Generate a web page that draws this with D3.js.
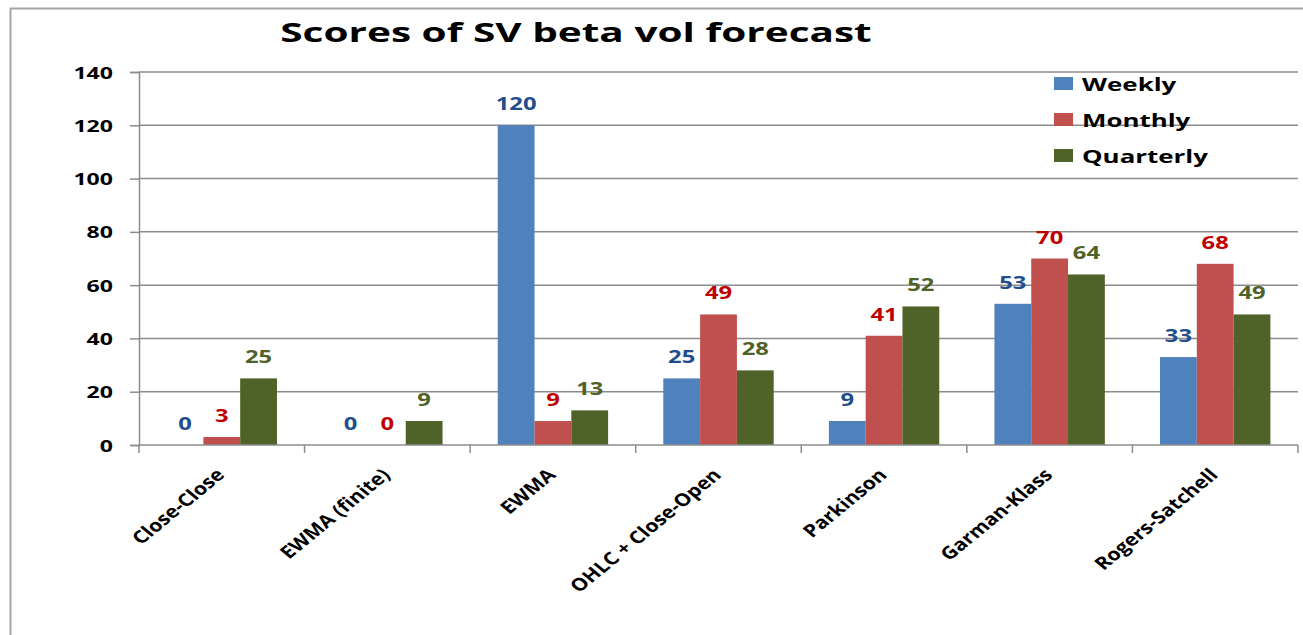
<!DOCTYPE html>
<html>
<head>
<meta charset="utf-8">
<script src="https://cdn.jsdelivr.net/npm/d3@7"></script>
<style>
  html, body { margin: 0; padding: 0; background: #fff; }
  svg { display: block; }
  text { font-family: "Open Sans", "DejaVu Sans", sans-serif; font-weight: 700; }
</style>
</head>
<body>
<svg id="chart" width="1303" height="635"></svg>
<script>
const title = "Scores of SV beta vol forecast";
const categories = ["Close-Close", "EWMA (finite)", "EWMA", "OHLC + Close-Open", "Parkinson", "Garman-Klass", "Rogers-Satchell"];
const seriesNames = ["Weekly", "Monthly", "Quarterly"];
const weekly    = [0, 0, 120, 25, 9, 53, 33];
const monthly   = [3, 0, 9, 49, 41, 70, 68];
const quarterly = [25, 9, 13, 28, 52, 64, 49];
const yTicks = [0, 20, 40, 60, 80, 100, 120, 140];

const seriesValues = [weekly, monthly, quarterly];
const barColors = ["#4F81BD", "#C0504D", "#4F6228"];
const labelColors = ["#1F4E8C", "#C00000", "#4F6228"];

const svg = d3.select("#chart");
const SX = 1.4; // horizontal stretch of the text glyphs

const plotLeft = 139, plotRight = 1298, plotTop = 72, plotBottom = 445;

// outer frame
svg.append("rect")
  .attr("x", 10.5).attr("y", 8.5).attr("width", 1400).attr("height", 800)
  .attr("fill", "none").attr("stroke", "#a6a6a6").attr("stroke-width", 2);

const x0 = d3.scaleBand().domain(categories).range([plotLeft, plotRight])
  .paddingInner(1/3).paddingOuter(1/6);
const x1 = d3.scaleBand().domain(seriesNames).range([0, x0.bandwidth()]);
const y = d3.scaleLinear().domain([0, 140]).range([plotBottom, plotTop]);

// gridlines
svg.append("g").selectAll("line").data(yTicks.filter(d => d > 0)).join("line")
  .attr("x1", plotLeft).attr("x2", plotRight)
  .attr("y1", d => y(d)).attr("y2", d => y(d))
  .attr("stroke", "#8c8c8c").attr("stroke-width", 1.5);

// y axis
const yAxis = svg.append("g").attr("transform", `translate(${plotLeft},0)`)
  .call(d3.axisLeft(y).tickValues(yTicks).tickSize(9).tickPadding(0).tickFormat(d3.format("d")));
yAxis.select(".domain").attr("stroke", "#8c8c8c").attr("stroke-width", 1.5);
yAxis.selectAll(".tick line").attr("stroke", "#8c8c8c").attr("stroke-width", 1.5);
yAxis.selectAll(".tick text")
  .attr("x", null).attr("dy", null)
  .attr("font-size", 16.5).attr("fill", "#000").attr("text-anchor", "end")
  .attr("transform", `translate(-26,6) scale(${SX},1)`);

// bars
const groups = svg.append("g").selectAll("g").data(categories).join("g")
  .attr("transform", d => `translate(${x0(d)},0)`);
const barData = (c, i) => seriesNames.map((s, k) => ({ s, k, v: seriesValues[k][i] }));
groups.selectAll("rect").data(barData).join("rect")
  .attr("x", d => x1(d.s)).attr("width", x1.bandwidth())
  .attr("y", d => y(d.v)).attr("height", d => y(0) - y(d.v))
  .attr("fill", d => barColors[d.k]);

// data labels
groups.selectAll("text.lbl").data(barData).join("text")
  .attr("class", "lbl")
  .attr("text-anchor", "middle")
  .attr("font-size", 17)
  .attr("fill", d => labelColors[d.k])
  .attr("transform", d => `translate(${x1(d.s) + x1.bandwidth() / 2},${y(d.v) - 15}) scale(${SX},1)`)
  .text(d => d.v);

// x axis
const xAxis = svg.append("g").attr("transform", `translate(0,${plotBottom})`);
xAxis.append("line").attr("x1", plotLeft).attr("x2", plotRight)
  .attr("stroke", "#8c8c8c").attr("stroke-width", 1.5);
const step = x0.step();
const tickPos = d3.range(categories.length + 1).map(i => plotLeft + i * step);
xAxis.selectAll("line.tk").data(tickPos).join("line").attr("class", "tk")
  .attr("x1", d => d).attr("x2", d => d).attr("y1", 0).attr("y2", 8)
  .attr("stroke", "#8c8c8c").attr("stroke-width", 1.5);
xAxis.selectAll("text").data(categories).join("text")
  .attr("text-anchor", "end")
  .attr("font-size", 17.5)
  .attr("fill", "#000")
  .attr("transform", d => `translate(${x0(d) + x0.bandwidth() / 2 + 4},31) scale(1.22,1) rotate(-45)`)
  .text(d => d);

// title
svg.append("text")
  .attr("text-anchor", "middle")
  .attr("font-size", 26.5)
  .attr("fill", "#000")
  .attr("transform", `translate(576,42) scale(1.53,1)`)
  .text(title);

// legend
const legend = svg.append("g").selectAll("g").data(seriesNames).join("g")
  .attr("transform", (d, i) => `translate(1054,${77 + i * 36})`);
legend.append("rect").attr("width", 19).attr("height", 13).attr("fill", (d, i) => barColors[i]);
legend.append("text")
  .attr("font-size", 18.5).attr("fill", "#000")
  .attr("transform", `translate(28,13.5) scale(${SX},1)`)
  .text(d => d);
</script>
</body>
</html>
